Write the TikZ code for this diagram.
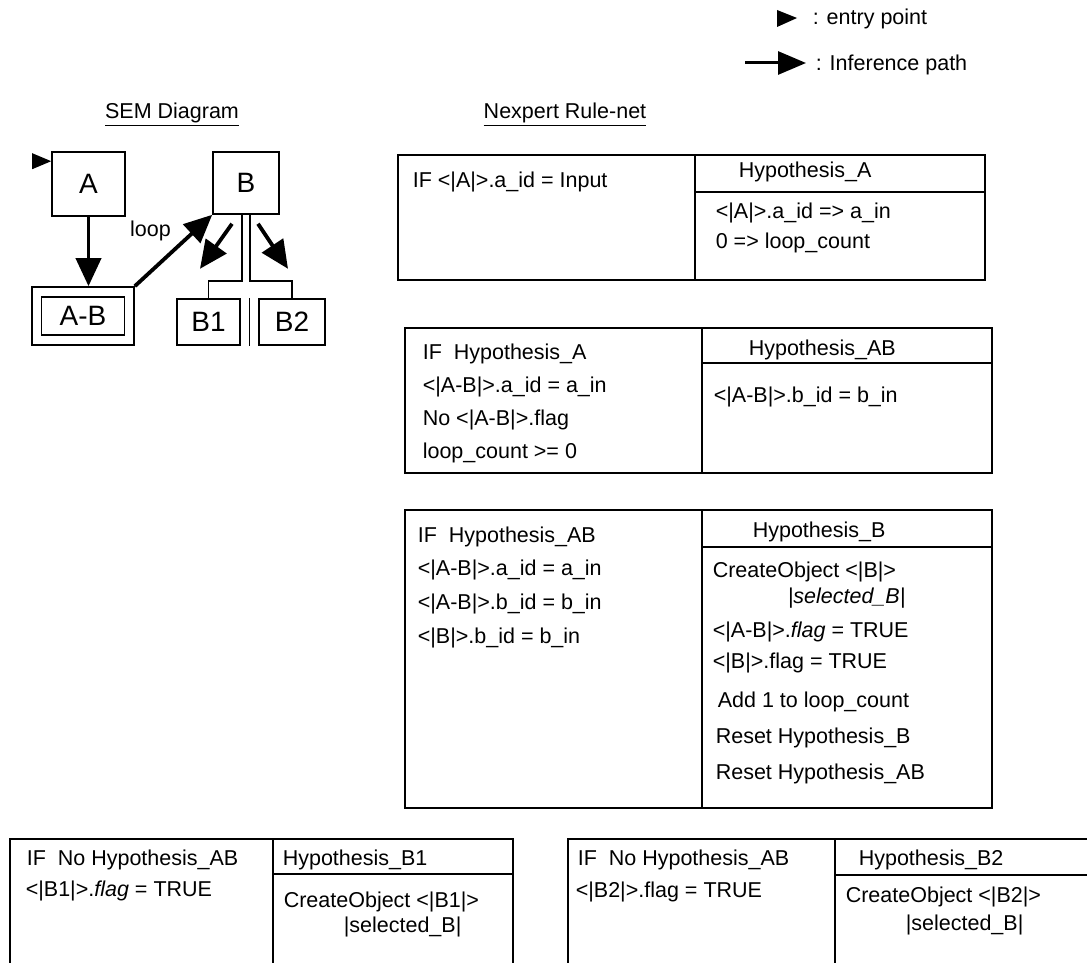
\documentclass[tikz,border=0pt]{standalone}
\usepackage{fontspec}
\setmainfont{Liberation Sans}
\usetikzlibrary{calc, arrows.meta}

\begin{document}
\begin{tikzpicture}[x=1pt, y=-1pt, line width=1.6pt,
	every node/.style={inner sep=0pt, font=\fontsize{21.5}{26}\selectfont},
	semnode/.style={draw, rectangle, font=\fontsize{28}{32}\selectfont},
	txt/.style={anchor=base west},
	infer/.style={line width=3.8pt, -{Triangle[length=28pt, width=25pt]}}]

	\useasboundingbox (0,0) rectangle (1087,963);
	\clip (0,0) rectangle (1087,963);

	% draw legend
	\fill (777,10) -- (797,18) -- (777,27) -- cycle;
	\node[txt] (leg_entry) at (812,25) {: entry point};
	\node[txt] (leg_path) at (815,71) {: Inference path};
	\coordinate (leg_s) at (745,63);
	\coordinate (leg_e) at (806,63);
	\draw[infer, line width=3pt, -{Triangle[length=28pt, width=23pt]}] (leg_s) -- (leg_e);

	% draw titles
	\node[anchor=base] (sem_title) at (172,119) {\underline{SEM Diagram}};
	\node[anchor=base] (net_title) at (565,119) {\underline{Nexpert Rule-net}};

	% draw SEM diagram
	\node[semnode, minimum width=73, minimum height=64] (A) at (88.5,184) {A};
	\node[semnode, minimum width=66, minimum height=62] (B) at (246,183) {B};
	\node[semnode, minimum width=102, minimum height=58] (AB) at (83,316) {};
	\node[semnode, minimum width=83, minimum height=38] (AB_in) at (AB) {A-B};
	\node[semnode, minimum width=63, minimum height=46] (B1) at (208.5,322) {B1};
	\node[semnode, minimum width=66, minimum height=46] (B2) at (292,322) {B2};
	\fill ($(A.north west)+(-19,2)$) -- ($(A.north west)+(0,10)$) -- ($(A.north west)+(-19,18)$) -- cycle;

	% draw inference paths
	\draw[infer] (A.south) -- (A.south |- AB.north);
	\draw[infer] (AB.north east) -- (B.south west) node[pos=0.49, anchor=south east, yshift=8pt] (loop) {loop};
	\coordinate (b1_s) at ($(B.south)+(-14,9)$);
	\coordinate (b1_e) at ($(B.south)+(-46,54)$);
	\coordinate (b2_s) at ($(B.south)+(12,9)$);
	\coordinate (b2_e) at ($(B.south)+(42,54)$);
	\draw[infer] (b1_s) -- (b1_e);
	\draw[infer] (b2_s) -- (b2_e);

	% draw subtype bracket
	\draw ($(B.south)+(-4,0)$) -- ++(0,66) -| (B1.north);
	\draw ($(B.south)+(4,0)$) -- ++(0,66) -| (B2.north);
	\draw ($(B1.north east)!0.5!(B2.north west)$) -- ($(B1.south east)!0.5!(B2.south west)$);

	% rule 1
	\draw (398,155) rectangle (985,280);
	\draw (695,155) -- (695,280) (695,192) -- (985,192);
	\node[txt] (r1_if) at (412,187) {IF <|A|>.a\_id = Input};
	\node[txt] (r1_hyp) at (738,178) {Hypothesis\_A};
	\node[txt] (r1_do_0) at (715,218) {<|A|>.a\_id => a\_in};
	\node[txt] (r1_do_1) at (715,248) {0 => loop\_count};

	% rule 2
	\draw (405,328) rectangle (992,473);
	\draw (702,328) -- (702,473) (702,363) -- (992,363);
	\foreach \t [count=\s from 0] in {{IF~~Hypothesis\_A}, {<|A-B|>.a\_id = a\_in}, {No <|A-B|>.flag}, {loop\_count >= 0}}
	{
		\node[txt] (r2_if_\s) at (422,359+\s*33) {\t};
	}
	\node[txt] (r2_hyp) at (748,355) {Hypothesis\_AB};
	\node[txt] (r2_do_0) at (713,402) {<|A-B|>.b\_id = b\_in};

	% rule 3
	\draw (405,510) rectangle (992,808);
	\draw (702,510) -- (702,808) (702,547) -- (992,547);
	\foreach \t [count=\s from 0] in {{IF~~Hypothesis\_AB}, {<|A-B|>.a\_id = a\_in}, {<|A-B|>.b\_id = b\_in}, {<|B|>.b\_id = b\_in}}
	{
		\node[txt] (r3_if_\s) at (417,542+\s*33.7) {\t};
	}
	\node[txt] (r3_hyp) at (752,537) {Hypothesis\_B};
	\node[txt] (r3_do_0) at (712,577) {CreateObject <|B|>};
	\node[txt] (r3_do_1) at (787,603) {\textit{|selected\_B|}};
	\node[txt] (r3_do_2) at (712,637) {<|A-B|>.\textit{flag} = TRUE};
	\node[txt] (r3_do_3) at (712,668) {<|B|>.flag = TRUE};
	\node[txt] (r3_do_4) at (717,707) {Add 1 to loop\_count};
	\node[txt] (r3_do_5) at (715,743) {Reset Hypothesis\_B};
	\node[txt] (r3_do_6) at (715,779) {Reset Hypothesis\_AB};

	% rule 4
	\draw (10,839) rectangle (513,1000);
	\draw (273,839) -- (273,1000) (273,874) -- (513,874);
	\node[txt] (r4_if_0) at (26,865) {IF~~No Hypothesis\_AB};
	\node[txt] (r4_if_1) at (25,896) {<|B1|>.\textit{flag} = TRUE};
	\node[txt] (r4_hyp) at (282,865) {Hypothesis\_B1};
	\node[txt] (r4_do_0) at (283,907) {CreateObject <|B1|>};
	\node[txt] (r4_do_1) at (343,932) {|selected\_B|};

	% rule 5
	\draw (568,839) rectangle (1100,1000);
	\draw (835,839) -- (835,1000) (835,875) -- (1100,875);
	\node[txt] (r5_if_0) at (577,865) {IF~~No Hypothesis\_AB};
	\node[txt] (r5_if_1) at (575,897) {<|B2|>.flag = TRUE};
	\node[txt] (r5_hyp) at (858,865) {Hypothesis\_B2};
	\node[txt] (r5_do_0) at (845,902) {CreateObject <|B2|>};
	\node[txt] (r5_do_1) at (905,930) {|selected\_B|};

\end{tikzpicture}
\end{document}
